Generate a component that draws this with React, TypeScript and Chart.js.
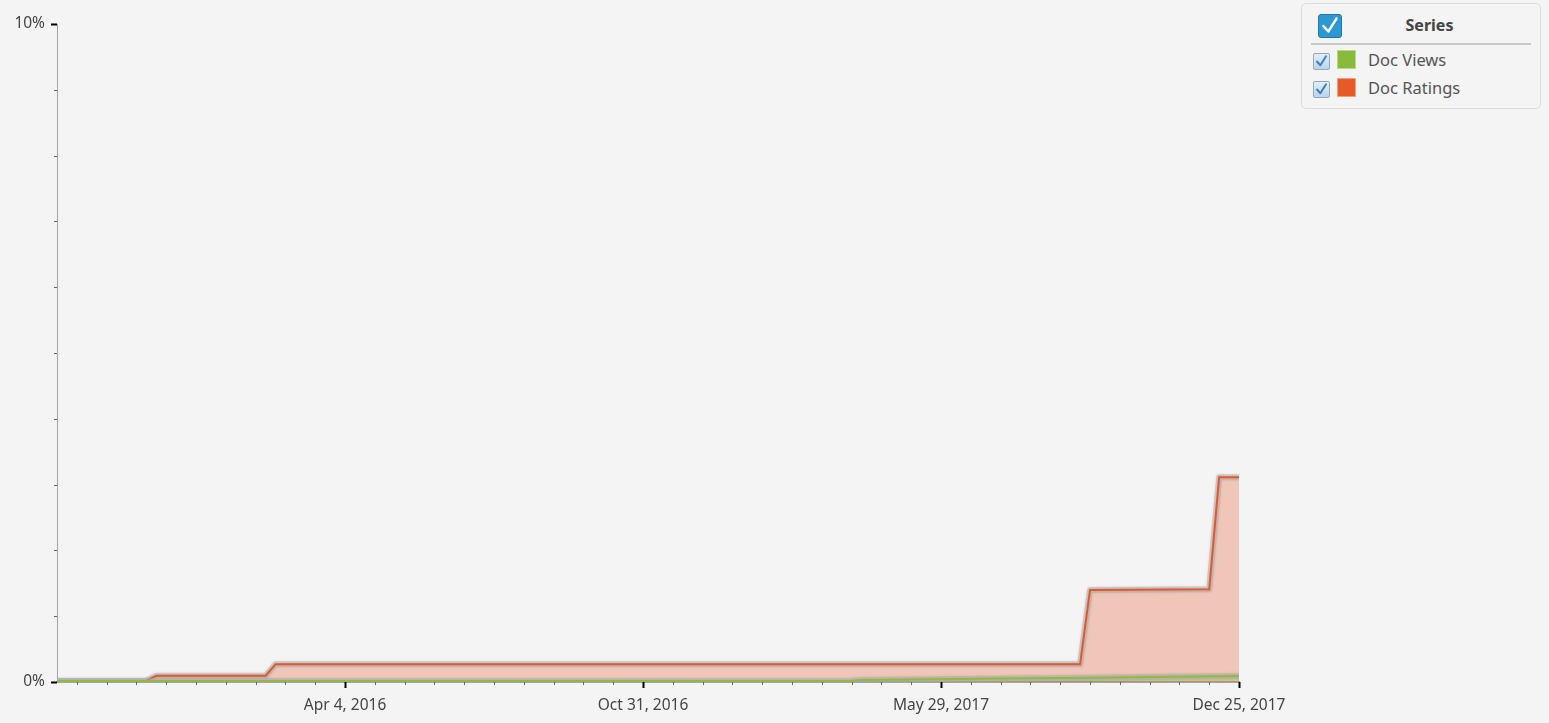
import React, { useEffect, useRef } from 'react';
import { Chart, registerables } from 'chart.js';

Chart.register(...registerables);

const viewDates = ['2015-09-14', '2017-03-27', '2017-04-03', '2017-07-10', '2017-09-11', '2017-11-06', '2017-12-25'];
const viewValues = [0.015, 0.02, 0.03, 0.055, 0.065, 0.08, 0.09];

const ratingDates = [
  '2015-09-14', '2015-11-16', '2015-11-23', '2016-02-08', '2016-02-15',
  '2017-09-04', '2017-09-11', '2017-12-04', '2017-12-11', '2017-12-25',
];
const ratingValues = [0.015, 0.02, 0.096, 0.096, 0.27, 0.27, 1.4, 1.41, 3.11, 3.11];

const xTickDates = ['2016-04-04', '2016-10-31', '2017-05-29', '2017-12-25'];
const xTickLabels = ['Apr 4, 2016', 'Oct 31, 2016', 'May 29, 2017', 'Dec 25, 2017'];
const yTickLabels = ['0%', '10%'];

const FONT = '"Segoe UI", "Noto Sans", "Open Sans", sans-serif';
const DAY = 86400000;
const xMin = Date.parse('2015-09-14');
const xMax = Date.parse('2017-12-25');
const firstMinor = Date.parse('2015-09-28');
const majorMs = xTickDates.map(d => Date.parse(d));

const toPoints = (dates: string[], values: number[]) =>
  dates.map((d, i) => ({ x: Date.parse(d), y: values[i] }));

// grey halo under each line (drawn after the fill, before the line itself)
const haloPlugin = {
  id: 'halo',
  beforeDatasetDraw(chart: any, args: any) {
    const pts = args.meta.data;
    if (!pts || !pts.length) return;
    const ctx = chart.ctx;
    ctx.save();
    ctx.beginPath();
    ctx.rect(chart.chartArea.left, chart.chartArea.top - 6, chart.chartArea.width, chart.chartArea.height + 6);
    ctx.clip();
    ctx.strokeStyle = 'rgba(175,175,175,0.6)';
    ctx.lineWidth = 6;
    ctx.lineJoin = 'round';
    ctx.shadowColor = 'rgba(0,0,0,0.15)';
    ctx.shadowBlur = 3;
    ctx.beginPath();
    pts.forEach((p: any, i: number) => (i ? ctx.lineTo(p.x, p.y) : ctx.moveTo(p.x, p.y)));
    ctx.stroke();
    ctx.restore();
  },
};

// tick marks of two lengths, drawn from the library scales
const tickPlugin = {
  id: 'tickMarks',
  afterDraw(chart: any) {
    const { ctx, chartArea, scales } = chart;
    ctx.save();
    scales.x.ticks.forEach((t: any) => {
      const px = Math.round(scales.x.getPixelForValue(t.value)) + 0.5;
      const major = majorMs.includes(t.value);
      ctx.strokeStyle = major ? '#000' : '#666';
      ctx.lineWidth = major ? 2 : 1;
      ctx.beginPath();
      ctx.moveTo(px, chartArea.bottom);
      ctx.lineTo(px, chartArea.bottom + (major ? 6 : 3));
      ctx.stroke();
    });
    scales.y.ticks.forEach((t: any) => {
      const py = Math.round(scales.y.getPixelForValue(t.value)) + 0.5;
      const major = t.value === 0 || t.value === 10;
      ctx.strokeStyle = major ? '#000' : '#666';
      ctx.lineWidth = major ? 2 : 1;
      ctx.beginPath();
      ctx.moveTo(chartArea.left - (major ? 6 : 3), py);
      ctx.lineTo(chartArea.left, py);
      ctx.stroke();
    });
    ctx.restore();
  },
};

const CheckMark: React.FC<{ size: number; color: string; width: number }> = ({ size, color, width }) => (
  <svg width={size} height={size} viewBox="0 0 20 20" style={{ display: 'block' }}>
    <polyline points="4,10 8.5,15 16,3" fill="none" stroke={color} strokeWidth={width} strokeLinecap="round" strokeLinejoin="round" />
  </svg>
);

const LegendRow: React.FC<{ top: number; color: string; border: string; label: string }> = ({ top, color, border, label }) => (
  <>
    <div style={{
      position: 'absolute', left: 11, top: top + 3, width: 15, height: 15,
      border: '1px solid #8fa8c4', borderRadius: 2,
      background: 'linear-gradient(#e4eef8, #bcd3ea)',
    }}>
      <CheckMark size={15} color="#3b7fc0" width={2.6} />
    </div>
    <div style={{
      position: 'absolute', left: 35, top, width: 17, height: 17,
      background: color, border: `1px solid ${border}`,
    }} />
    <div style={{
      position: 'absolute', left: 66, top: top - 2, fontSize: 16.5, color: '#555',
      lineHeight: '24px', whiteSpace: 'nowrap',
    }}>{label}</div>
  </>
);

const App: React.FC = () => {
  const canvasRef = useRef<HTMLCanvasElement>(null);
  const chartRef = useRef<Chart | null>(null);

  useEffect(() => {
    document.body.style.margin = '0';
    document.body.style.background = '#f4f4f4';
    if (!canvasRef.current) return;
    const ctx = canvasRef.current.getContext('2d');
    if (!ctx) return;

    Chart.defaults.font.family = FONT;

    chartRef.current = new Chart(ctx, {
      type: 'line',
      data: {
        datasets: [
          {
            label: 'Doc Views',
            data: toPoints(viewDates, viewValues),
            borderColor: '#8cbd3f',
            backgroundColor: 'rgba(140,189,63,0.32)',
            borderWidth: 2,
            fill: 'origin',
            pointRadius: 0,
            tension: 0,
          },
          {
            label: 'Doc Ratings',
            data: toPoints(ratingDates, ratingValues),
            borderColor: '#e5572b',
            backgroundColor: 'rgba(232,92,50,0.3)',
            borderWidth: 2,
            fill: 'origin',
            pointRadius: 0,
            tension: 0,
          },
        ],
      },
      options: {
        animation: false,
        responsive: false,
        layout: { padding: { top: 24, right: 310, bottom: 0, left: 0 } },
        plugins: {
          legend: { display: false },
          tooltip: { enabled: false },
        },
        scales: {
          x: {
            type: 'linear',
            min: xMin,
            max: xMax,
            afterBuildTicks: (scale: any) => {
              const ticks = [];
              for (let v = firstMinor; v <= xMax; v += 21 * DAY) ticks.push({ value: v });
              scale.ticks = ticks;
            },
            afterFit: (scale: any) => { scale.height = 41; },
            grid: { display: false, drawTicks: false },
            border: { display: true, color: '#a3a3a3', width: 2 },
            ticks: {
              autoSkip: false,
              maxRotation: 0,
              padding: 14,
              color: '#444',
              font: { size: 15.5, family: FONT },
              callback: (value: any) => {
                const i = majorMs.indexOf(Number(value));
                return i >= 0 ? xTickLabels[i] : '';
              },
            },
          },
          y: {
            min: 0,
            max: 10,
            afterFit: (scale: any) => { scale.width = 57; },
            grid: { display: false, drawTicks: false },
            border: { display: true, color: '#a3a3a3', width: 1 },
            ticks: {
              stepSize: 1,
              padding: 12,
              color: '#444',
              font: { size: 15.5, family: FONT },
              callback: (value: any) => {
                if (value === 0) return yTickLabels[0];
                if (value === 10) return yTickLabels[1];
                return '';
              },
            },
          },
        },
      },
      plugins: [haloPlugin, tickPlugin],
    });

    return () => {
      chartRef.current?.destroy();
      chartRef.current = null;
    };
  }, []);

  return (
    <div style={{ position: 'absolute', left: 0, top: 0, width: 1549, height: 723, background: '#f4f4f4', fontFamily: FONT }}>
      <canvas ref={canvasRef} width={1549} height={723} style={{ display: 'block' }} aria-label="Doc Views and Doc Ratings area chart" role="img"></canvas>
      <div style={{
        position: 'absolute', left: 1301, top: 3, width: 240, height: 106, boxSizing: 'border-box',
        border: '1px solid #dcdcdc', borderRadius: 5, background: '#f4f4f4',
      }}>
        <div style={{
          position: 'absolute', left: 16, top: 10, width: 22, height: 22,
          background: '#2c9ad1', border: '1px solid #1f78a8', borderRadius: 3,
        }}>
          <CheckMark size={22} color="#fff" width={2.2} />
        </div>
        <div style={{
          position: 'absolute', left: 60, width: 135, top: 9, textAlign: 'center',
          fontSize: 16, fontWeight: 'bold', color: '#444', lineHeight: '24px',
        }}>Series</div>
        <div style={{ position: 'absolute', left: 9, right: 9, top: 39, height: 2, background: '#c8c8c8' }} />
        <LegendRow top={46} color="#8aba3b" border="#b8d88a" label="Doc Views" />
        <LegendRow top={74} color="#e55a28" border="#f0a080" label="Doc Ratings" />
      </div>
    </div>
  );
};

export default App;
